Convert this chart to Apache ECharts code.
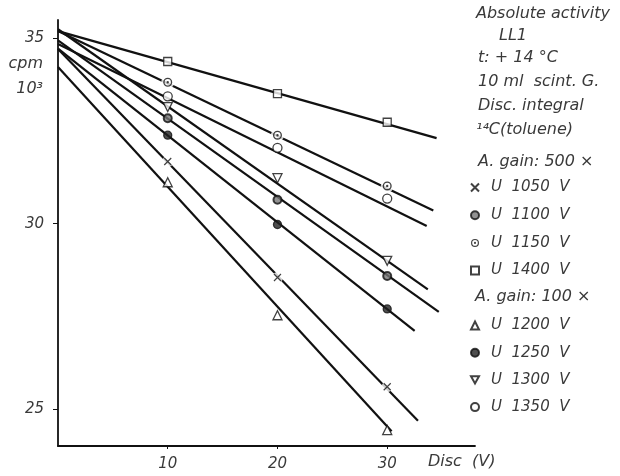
<!DOCTYPE html>
<html>
<head>
<meta charset="utf-8">
<script src="https://cdn.jsdelivr.net/npm/echarts@6/dist/echarts.min.js"></script>
<style>
  html, body { margin: 0; padding: 0; background: #fff; }
  #chart { width: 620px; height: 476px; }
</style>
</head>
<body>
<div id="chart"></div>
<script>
// Discriminator settings (V) at which count rates were measured
const discVoltage = [10, 20, 30];

// Count rates, cpm x 10^3, one array per photomultiplier voltage
const cpm1050 = [31.68, 28.55, 25.60];
const cpm1100 = [32.85, 30.65, 28.59];
const cpm1150 = [33.82, 32.39, 31.02];
const cpm1400 = [34.38, 33.51, 32.74];
const cpm1200 = [31.12, 27.53, 24.43];
const cpm1250 = [32.39, 29.98, 27.70];
const cpm1300 = [33.15, 31.23, 29.00];
const cpm1350 = [33.44, 32.05, 30.68];

// Series names, amplifier gain 500x group then 100x group
const seriesNames = ['U  1050  V', 'U  1100  V', 'U  1150  V', 'U  1400  V',
                     'U  1200  V', 'U  1250  V', 'U  1300  V', 'U  1350  V'];

// Fitted straight lines: cpm at Disc = 0, and where each line ends
const fitStartCpm = [34.72, 34.95, 35.20, 35.20, 34.23, 34.73, 35.25, 34.85];
const fitEndDisc  = [32.8, 34.7, 34.2, 34.5, 30.4, 32.5, 33.7, 33.6];
const fitEndCpm   = [24.68, 27.62, 30.36, 32.31, 24.40, 27.11, 28.23, 29.94];

// Axis ticks
const yTicks = [25, 30, 35];
const xTicks = [10, 20, 30];

const seriesValues = [cpm1050, cpm1100, cpm1150, cpm1400, cpm1200, cpm1250, cpm1300, cpm1350];

const INK = '#111';
const TXT = '#3a3a3a';
const FONT = '"DejaVu Sans", sans-serif';

const crossPath = 'path://M0,0L10,10M10,0L0,10';
const downTrianglePath = 'path://M0,0L10,0L5,9Z';
const dotRingPath = 'path://M5,0A5,5 0 1,1 5,10A5,5 0 1,1 5,0Z' +
  'M5,1.5A3.5,3.5 0 1,0 5,8.5A3.5,3.5 0 1,0 5,1.5Z' +
  'M5,3.7A1.3,1.3 0 1,1 5,6.3A1.3,1.3 0 1,1 5,3.7Z';

// Marker look for each series, same order as seriesNames
const markerStyles = [
  { symbol: crossPath, size: 7, backing: true,
    itemStyle: { color: 'rgba(0,0,0,0)', borderColor: INK, borderWidth: 1.2 } },
  { symbol: 'circle', size: 8,
    itemStyle: { color: '#777', borderColor: INK, borderWidth: 2 } },
  { symbol: dotRingPath, size: 9, backing: true,
    itemStyle: { color: INK } },
  { symbol: 'rect', size: 8,
    itemStyle: { color: '#fff', borderColor: INK, borderWidth: 1.3 } },
  { symbol: 'triangle', size: 9,
    itemStyle: { color: '#fff', borderColor: INK, borderWidth: 1.3 } },
  { symbol: 'circle', size: 8,
    itemStyle: { color: '#222', borderColor: INK, borderWidth: 1.3 } },
  { symbol: downTrianglePath, size: 9,
    itemStyle: { color: '#fff', borderColor: INK, borderWidth: 1.3 } },
  { symbol: 'circle', size: 9,
    itemStyle: { color: '#fff', borderColor: INK, borderWidth: 1.3 } }
];

const series = [];
seriesNames.forEach((name, i) => {
  // regression line
  series.push({
    type: 'line',
    name: 'fit ' + name,
    data: [[0, fitStartCpm[i]], [fitEndDisc[i], fitEndCpm[i]]],
    showSymbol: false,
    silent: true,
    lineStyle: { color: INK, width: 2.2 },
    z: 2
  });
  const pts = discVoltage.map((x, j) => [x, seriesValues[i][j]]);
  const st = markerStyles[i];
  if (st.backing) {
    // white disc under open-centred markers so the line is broken there
    series.push({
      type: 'scatter', name: 'bg ' + name, data: pts,
      symbol: 'circle', symbolSize: st.size + 4, silent: true,
      itemStyle: { color: '#fff' }, z: 3
    });
  }
  series.push({
    type: 'scatter', name: name, data: pts,
    symbol: st.symbol, symbolSize: st.size,
    itemStyle: st.itemStyle, z: 4
  });
});

const legendText = { fontFamily: FONT, fontStyle: 'italic', fontSize: 15, color: TXT, padding: [0, 0, 0, 7] };
function legendBlock(names, top, gap) {
  return {
    orient: 'vertical', left: 465, top: top,
    itemWidth: 8, itemHeight: 8, itemGap: gap,
    textStyle: legendText,
    data: names.map(n => {
      const st = markerStyles[seriesNames.indexOf(n)];
      if (st.symbol === dotRingPath) return { name: n, icon: dotRingPath, itemStyle: { color: INK } };
      return { name: n };
    })
  };
}

function label(text, x, y, align) {
  return {
    type: 'text', left: align === 'right' ? undefined : x, right: align === 'right' ? 620 - x : undefined,
    top: y - 9,
    style: { text: text, fill: TXT, font: 'italic 16px ' + FONT, textAlign: align || 'left' }
  };
}

const chart = echarts.init(document.getElementById('chart'), null, { renderer: 'canvas' });
chart.setOption({
  animation: false,
  backgroundColor: '#fff',
  grid: { left: 58, right: 145, top: 20, bottom: 30 },
  xAxis: {
    type: 'value', min: 0, max: 38,
    axisLine: { show: true, lineStyle: { color: INK, width: 1.8 } },
    axisTick: { show: true, customValues: xTicks, length: 3, lineStyle: { color: INK } },
    axisLabel: { customValues: xTicks, margin: 11, fontFamily: FONT, fontStyle: 'italic', fontSize: 15, color: TXT },
    splitLine: { show: false },
    name: 'Disc  (V)', nameLocation: 'end', nameGap: -47,
    nameTextStyle: { fontFamily: FONT, fontStyle: 'italic', fontSize: 16, color: TXT,
                     align: 'left', verticalAlign: 'top', padding: [8, 0, 0, 0] }
  },
  yAxis: {
    type: 'value', min: 24, max: 35.5,
    axisLine: { show: true, lineStyle: { color: INK, width: 1.8 } },
    axisTick: { show: true, customValues: yTicks, length: 5, lineStyle: { color: INK } },
    axisLabel: { customValues: yTicks, margin: 14, fontFamily: FONT, fontStyle: 'italic', fontSize: 15, color: TXT },
    splitLine: { show: false }
  },
  legend: [
    legendBlock(seriesNames.slice(0, 4), 175, 12.7),
    legendBlock(seriesNames.slice(4), 313, 12.2)
  ],
  graphic: [
    label('Absolute activity', 476, 15),
    label('LL1', 499, 37),
    label('t: + 14 °C', 478, 59),
    label('10 ml  scint. G.', 478, 83),
    label('Disc. integral', 478, 107),
    label('¹⁴C(toluene)', 476, 131),
    label('A. gain: 500 ×', 478, 163),
    label('A. gain: 100 ×', 475, 298),
    label('cpm', 43, 65, 'right'),
    label('10³', 43, 90, 'right')
  ],
  series: series
});
</script>
</body>
</html>
